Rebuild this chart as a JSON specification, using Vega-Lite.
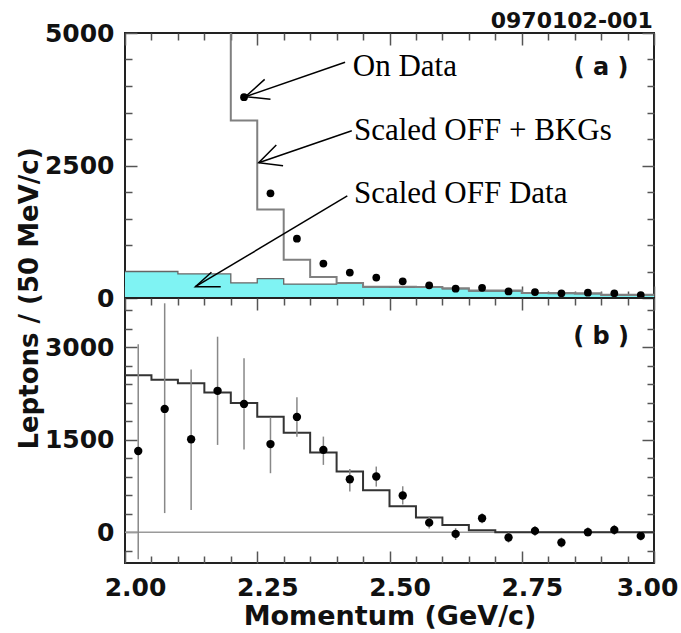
{
  "$schema": "https://vega.github.io/schema/vega-lite/v6.json",
  "background": "white",
  "padding": {"left": 15, "top": 9, "right": 0, "bottom": 0},
  "bounds": "flush",
  "spacing": 0,
  "config": {
    "view": {"stroke": "#222", "strokeWidth": 2},
    "axis": {
      "domain": false, "grid": false,
      "labelFont": "DejaVu Sans", "labelFontWeight": "bold", "labelFontSize": 25, "labelColor": "#111",
      "tickColor": "#555", "tickWidth": 1.5,
      "labelOverlap": false, "labelFlush": false, "labelBound": false,
      "titleFont": "DejaVu Sans", "titleFontWeight": "bold", "titleColor": "#111"
    }
  },
  "datasets": {
    "off": [
      {"p": 2.00, "v": 500}, {"p": 2.05, "v": 500}, {"p": 2.10, "v": 455}, {"p": 2.15, "v": 455},
      {"p": 2.20, "v": 285}, {"p": 2.25, "v": 365}, {"p": 2.30, "v": 262}, {"p": 2.35, "v": 262},
      {"p": 2.40, "v": 275}, {"p": 2.45, "v": 205}, {"p": 2.50, "v": 203}, {"p": 2.55, "v": 200},
      {"p": 2.60, "v": 172}, {"p": 2.65, "v": 132}, {"p": 2.70, "v": 130}, {"p": 2.75, "v": 87},
      {"p": 2.80, "v": 85}, {"p": 2.85, "v": 80}, {"p": 2.90, "v": 55}, {"p": 2.95, "v": 55},
      {"p": 3.00, "v": 55}
    ],
    "bkg": [
      {"p": 2.00, "v": 9000}, {"p": 2.05, "v": 9000}, {"p": 2.10, "v": 9000}, {"p": 2.15, "v": 9000},
      {"p": 2.20, "v": 3350}, {"p": 2.25, "v": 1670}, {"p": 2.30, "v": 720}, {"p": 2.35, "v": 395},
      {"p": 2.40, "v": 285}, {"p": 2.45, "v": 214}, {"p": 2.50, "v": 212}, {"p": 2.55, "v": 208},
      {"p": 2.60, "v": 182}, {"p": 2.65, "v": 140}, {"p": 2.70, "v": 140}, {"p": 2.75, "v": 95},
      {"p": 2.80, "v": 92}, {"p": 2.85, "v": 88}, {"p": 2.90, "v": 62}, {"p": 2.95, "v": 62},
      {"p": 3.00, "v": 62}
    ],
    "on": [
      {"p": 2.225, "v": 3790}, {"p": 2.275, "v": 1975}, {"p": 2.325, "v": 1120}, {"p": 2.375, "v": 650},
      {"p": 2.425, "v": 480}, {"p": 2.475, "v": 385}, {"p": 2.525, "v": 315}, {"p": 2.575, "v": 240},
      {"p": 2.625, "v": 175}, {"p": 2.675, "v": 192}, {"p": 2.725, "v": 125}, {"p": 2.775, "v": 112},
      {"p": 2.825, "v": 88}, {"p": 2.875, "v": 100}, {"p": 2.925, "v": 88}, {"p": 2.975, "v": 55}
    ],
    "arrows": [
      {"seg": "a1s", "o": 0, "p": 2.416, "v": 4447}, {"seg": "a1s", "o": 1, "p": 2.2276, "v": 3798},
      {"seg": "a1h", "o": 0, "p": 2.264, "v": 4126}, {"seg": "a1h", "o": 1, "p": 2.2276, "v": 3798}, {"seg": "a1h", "o": 2, "p": 2.275, "v": 3749},
      {"seg": "a2s", "o": 0, "p": 2.4287, "v": 3157}, {"seg": "a2s", "o": 1, "p": 2.2527, "v": 2553},
      {"seg": "a2h", "o": 0, "p": 2.286, "v": 2887}, {"seg": "a2h", "o": 1, "p": 2.2527, "v": 2553}, {"seg": "a2h", "o": 2, "p": 2.2988, "v": 2496},
      {"seg": "a3s", "o": 0, "p": 2.4202, "v": 1925}, {"seg": "a3s", "o": 1, "p": 2.1331, "v": 213},
      {"seg": "a3h", "o": 0, "p": 2.1634, "v": 485}, {"seg": "a3h", "o": 1, "p": 2.1331, "v": 213}, {"seg": "a3h", "o": 2, "p": 2.181, "v": 213}
    ],
    "notes": [
      {"p": 2.4306, "v": 4189, "t": "On Data"},
      {"p": 2.4328, "v": 2981, "t": "Scaled OFF + BKGs"},
      {"p": 2.4328, "v": 1787, "t": "Scaled OFF Data"}
    ],
    "exp": [
      {"p": 2.00, "v": 2545}, {"p": 2.05, "v": 2475}, {"p": 2.10, "v": 2416}, {"p": 2.15, "v": 2265},
      {"p": 2.20, "v": 2097}, {"p": 2.25, "v": 1875}, {"p": 2.30, "v": 1615}, {"p": 2.35, "v": 1295},
      {"p": 2.40, "v": 983}, {"p": 2.45, "v": 680}, {"p": 2.50, "v": 420}, {"p": 2.55, "v": 240},
      {"p": 2.60, "v": 115}, {"p": 2.65, "v": 30}, {"p": 2.70, "v": 0}, {"p": 2.75, "v": 0},
      {"p": 2.80, "v": 0}, {"p": 2.85, "v": 0}, {"p": 2.90, "v": 0}, {"p": 2.95, "v": 0},
      {"p": 3.00, "v": 0}
    ],
    "diff": [
      {"p": 2.025, "v": 1318, "lo": -440, "hi": 3050},
      {"p": 2.075, "v": 2000, "lo": 310, "hi": 3714},
      {"p": 2.125, "v": 1508, "lo": 362, "hi": 2638},
      {"p": 2.175, "v": 2294, "lo": 1416, "hi": 3172},
      {"p": 2.225, "v": 2081, "lo": 1340, "hi": 2822},
      {"p": 2.275, "v": 1430, "lo": 957, "hi": 1862},
      {"p": 2.325, "v": 1870, "lo": 1550, "hi": 2189},
      {"p": 2.375, "v": 1335, "lo": 1092, "hi": 1551},
      {"p": 2.425, "v": 859, "lo": 659, "hi": 1025},
      {"p": 2.475, "v": 903, "lo": 740, "hi": 1065},
      {"p": 2.525, "v": 595, "lo": 450, "hi": 745},
      {"p": 2.575, "v": 155, "lo": 60, "hi": 253},
      {"p": 2.625, "v": -28, "lo": -125, "hi": 65},
      {"p": 2.675, "v": 227, "lo": 146, "hi": 308},
      {"p": 2.725, "v": -87, "lo": -169, "hi": -6},
      {"p": 2.775, "v": 21, "lo": -60, "hi": 102},
      {"p": 2.825, "v": -168, "lo": -249, "hi": -87},
      {"p": 2.875, "v": 0, "lo": -71, "hi": 81},
      {"p": 2.925, "v": 37, "lo": -44, "hi": 118},
      {"p": 2.975, "v": -60, "lo": -136, "hi": 21}
    ]
  },
  "vconcat": [
    {
      "width": 529,
      "height": 265,
      "resolve": {"axis": {"x": "independent", "y": "independent"}},
      "layer": [
        {
          "data": {"name": "off"},
          "mark": {"type": "area", "interpolate": "step-after", "color": "#7FF3F3", "opacity": 1, "line": {"color": "#666", "strokeWidth": 1.3}},
          "encoding": {
            "x": {"field": "p", "type": "quantitative", "scale": {"domain": [2, 3], "nice": false, "zero": false},
              "axis": {"orient": "bottom", "values": [2,2.25,2.5,2.75,3], "labels": false, "title": null, "tickSize": -12}},
            "y": {"field": "v", "type": "quantitative", "scale": {"domain": [0, 5000], "nice": false},
              "axis": {"orient": "left", "values": [0,2500,5000], "format": "d", "labelPadding": 23, "tickSize": -12,
                "title": "Leptons / (50 MeV/c)", "titleFontSize": 26, "titleX": -88, "titleY": 265, "titleAngle": 270, "titleBaseline": "alphabetic", "titleAlign": "center"}}
          }
        },
        {
          "data": {"name": "bkg"},
          "mark": {"type": "line", "interpolate": "step-after", "color": "#808080", "strokeWidth": 2, "clip": true},
          "encoding": {
            "x": {"field": "p", "type": "quantitative", "scale": {"domain": [2, 3], "nice": false, "zero": false},
              "axis": {"orient": "top", "values": [2,2.25,2.5,2.75,3], "labels": false, "title": null, "tickSize": -12}},
            "y": {"field": "v", "type": "quantitative", "scale": {"domain": [0, 5000], "nice": false},
              "axis": {"orient": "right", "values": [0,2500,5000], "labels": false, "title": null, "tickSize": -12}}
          }
        },
        {
          "data": {"name": "on"},
          "mark": {"type": "circle", "size": 60, "color": "black", "opacity": 1},
          "encoding": {
            "x": {"field": "p", "type": "quantitative", "scale": {"domain": [2, 3], "nice": false, "zero": false},
              "axis": {"orient": "bottom", "values": [2.05,2.1,2.15,2.2,2.3,2.35,2.4,2.45,2.55,2.6,2.65,2.7,2.8,2.85,2.9,2.95], "labels": false, "title": null, "tickSize": -7}},
            "y": {"field": "v", "type": "quantitative", "scale": {"domain": [0, 5000], "nice": false},
              "axis": {"orient": "left", "values": [500,1000,1500,2000,3000,3500,4000,4500], "labels": false, "title": null, "tickSize": -7}}
          }
        },
        {
          "data": {"name": "arrows"},
          "mark": {"type": "line", "color": "black", "strokeWidth": 1.5},
          "encoding": {
            "x": {"field": "p", "type": "quantitative", "scale": {"domain": [2, 3], "nice": false, "zero": false},
              "axis": {"orient": "top", "values": [2.05,2.1,2.15,2.2,2.3,2.35,2.4,2.45,2.55,2.6,2.65,2.7,2.8,2.85,2.9,2.95], "labels": false, "title": null, "tickSize": -7}},
            "y": {"field": "v", "type": "quantitative", "scale": {"domain": [0, 5000], "nice": false},
              "axis": {"orient": "right", "values": [500,1000,1500,2000,3000,3500,4000,4500], "labels": false, "title": null, "tickSize": -7}},
            "detail": {"field": "seg"},
            "order": {"field": "o", "type": "quantitative"}
          }
        },
        {
          "data": {"name": "notes"},
          "mark": {"type": "text", "font": "Liberation Serif", "fontSize": 31, "align": "left", "baseline": "alphabetic", "color": "black"},
          "encoding": {
            "x": {"field": "p", "type": "quantitative", "scale": {"domain": [2, 3], "nice": false, "zero": false}, "axis": null},
            "y": {"field": "v", "type": "quantitative", "scale": {"domain": [0, 5000], "nice": false}, "axis": null},
            "text": {"field": "t"}
          }
        },
        {
          "data": {"values": [{"p": 2.9, "v": 4340, "t": "( a )"}]},
          "mark": {"type": "text", "font": "DejaVu Sans", "fontWeight": "bold", "fontSize": 24, "align": "center", "baseline": "middle", "color": "#111"},
          "encoding": {
            "x": {"field": "p", "type": "quantitative", "scale": {"domain": [2, 3], "nice": false, "zero": false}, "axis": null},
            "y": {"field": "v", "type": "quantitative", "scale": {"domain": [0, 5000], "nice": false}, "axis": null},
            "text": {"field": "t"}
          }
        },
        {
          "data": {"values": [{"p": 2.998, "v": 5089, "t": "0970102-001"}]},
          "mark": {"type": "text", "font": "DejaVu Sans", "fontWeight": "bold", "fontSize": 22, "align": "right", "baseline": "alphabetic", "color": "#111"},
          "encoding": {
            "x": {"field": "p", "type": "quantitative", "scale": {"domain": [2, 3], "nice": false, "zero": false}, "axis": null},
            "y": {"field": "v", "type": "quantitative", "scale": {"domain": [0, 5000], "nice": false}, "axis": null},
            "text": {"field": "t"}
          }
        }
      ]
    },
    {
      "width": 529,
      "height": 265,
      "resolve": {"axis": {"x": "independent", "y": "independent"}},
      "layer": [
        {
          "data": {"values": [{}]},
          "mark": {"type": "rule", "color": "#9a9a9a", "strokeWidth": 1.5},
          "encoding": {
            "x": {"datum": 2, "type": "quantitative", "scale": {"domain": [2, 3], "nice": false, "zero": false},
              "axis": {"orient": "bottom", "tickSize": -12, "values": [3], "format": ".2f", "labelPadding": 24.5, "labelFlush": false, "labelOffset": -7, "title": null}},
            "x2": {"datum": 3},
            "y": {"datum": 0, "type": "quantitative", "scale": {"domain": [-500, 3800], "nice": false, "zero": false}, "axis": null}
          }
        },
        {
          "data": {"name": "exp"},
          "mark": {"type": "line", "interpolate": "step-after", "color": "#333", "strokeWidth": 2},
          "encoding": {
            "x": {"field": "p", "type": "quantitative", "scale": {"domain": [2, 3], "nice": false, "zero": false},
              "axis": {"orient": "bottom", "tickSize": -12, "values": [2,2.25,2.5,2.75], "format": ".2f",
                "labelPadding": 24.5, "labelFlush": false, "labelOffset": 10,
                "title": "Momentum (GeV/c)", "titleFontSize": 27, "titlePadding": 3, "titleX": 264.5}},
            "y": {"field": "v", "type": "quantitative", "scale": {"domain": [-500, 3800], "nice": false, "zero": false},
              "axis": {"orient": "left", "tickSize": -12, "values": [0,1500,3000], "format": "d", "labelPadding": 23, "title": null}}
          }
        },
        {
          "data": {"name": "diff"},
          "mark": {"type": "rule", "color": "#888", "strokeWidth": 1.5},
          "encoding": {
            "x": {"field": "p", "type": "quantitative", "scale": {"domain": [2, 3], "nice": false, "zero": false},
              "axis": {"orient": "bottom", "tickSize": -7, "values": [2.05,2.1,2.15,2.2,2.3,2.35,2.4,2.45,2.55,2.6,2.65,2.7,2.8,2.85,2.9,2.95], "labels": false, "title": null}},
            "y": {"field": "lo", "type": "quantitative", "scale": {"domain": [-500, 3800], "nice": false, "zero": false},
              "axis": {"orient": "left", "tickSize": -7, "values": [-300,300,600,900,1200,1800,2100,2400,2700,3300,3600], "labels": false, "title": null}},
            "y2": {"field": "hi"}
          }
        },
        {
          "data": {"name": "diff"},
          "mark": {"type": "circle", "size": 70, "color": "black", "opacity": 1},
          "encoding": {
            "x": {"field": "p", "type": "quantitative", "scale": {"domain": [2, 3], "nice": false, "zero": false},
              "axis": {"orient": "top", "tickSize": -12, "values": [2,2.25,2.5,2.75,3], "labels": false, "title": null}},
            "y": {"field": "v", "type": "quantitative", "scale": {"domain": [-500, 3800], "nice": false, "zero": false},
              "axis": {"orient": "right", "tickSize": -12, "values": [0,1500,3000], "labels": false, "title": null}}
          }
        },
        {
          "data": {"values": [{"p": 2.9, "v": 3174, "t": "( b )"}]},
          "mark": {"type": "text", "font": "DejaVu Sans", "fontWeight": "bold", "fontSize": 24, "align": "center", "baseline": "middle", "color": "#111"},
          "encoding": {
            "x": {"field": "p", "type": "quantitative", "scale": {"domain": [2, 3], "nice": false, "zero": false},
              "axis": {"orient": "top", "tickSize": -7, "values": [2.05,2.1,2.15,2.2,2.3,2.35,2.4,2.45,2.55,2.6,2.65,2.7,2.8,2.85,2.9,2.95], "labels": false, "title": null}},
            "y": {"field": "v", "type": "quantitative", "scale": {"domain": [-500, 3800], "nice": false, "zero": false},
              "axis": {"orient": "right", "tickSize": -7, "values": [-300,300,600,900,1200,1800,2100,2400,2700,3300,3600], "labels": false, "title": null}},
            "text": {"field": "t"}
          }
        }
      ]
    }
  ]
}
